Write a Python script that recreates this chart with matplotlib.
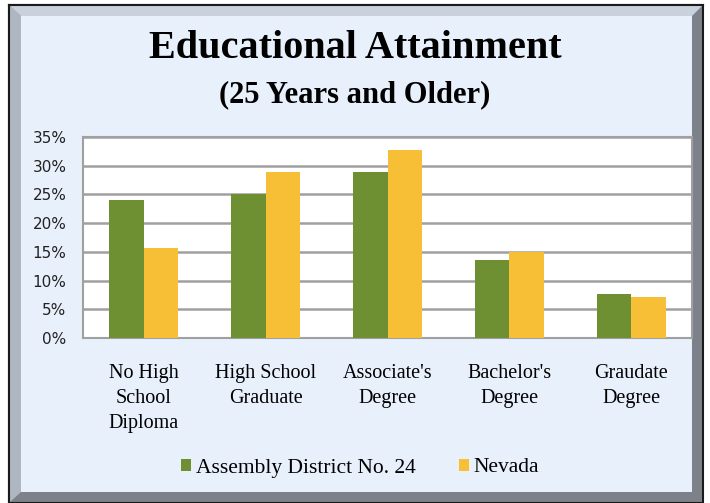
import matplotlib.pyplot as plt
from matplotlib.patches import Rectangle, Polygon
import numpy as np

categories = ["No High\nSchool\nDiploma", "High School\nGraduate", "Associate's\nDegree",
              "Bachelor's\nDegree", "Graudate\nDegree"]
district = [24.1, 25.0, 28.9, 13.5, 7.6]
nevada = [15.6, 28.9, 32.8, 15.0, 7.2]
series_names = ["Assembly District No. 24", "Nevada"]
yticks = [0, 5, 10, 15, 20, 25, 30, 35]

W, H = 710, 503
fig = plt.figure(figsize=(W / 100, H / 100), dpi=100)
fig.patch.set_facecolor("white")


def fx(px):
    return px / W


def fy(py):
    return 1 - py / H


# frame with bevel
fig.patches.append(Rectangle((fx(9), fy(503)), fx(703) - fx(9), fy(5) - fy(503),
                             transform=fig.transFigure, facecolor="#7d8189",
                             edgecolor="#1a1a1a", lw=1.5, zorder=-5))
bevel_left = [(9, 5), (21, 16), (21, 492), (9, 503)]
bevel_top = [(9, 5), (703, 5), (692, 16), (21, 16)]
fig.patches.append(Polygon([(fx(a), fy(b)) for a, b in bevel_left], closed=True,
                           transform=fig.transFigure, facecolor="#aeb6c2", lw=0, zorder=-4))
fig.patches.append(Polygon([(fx(a), fy(b)) for a, b in bevel_top], closed=True,
                           transform=fig.transFigure, facecolor="#c9d2dc", lw=0, zorder=-4))
fig.patches.append(Rectangle((fx(21), fy(492)), fx(692) - fx(21), fy(16) - fy(492),
                             transform=fig.transFigure, facecolor="#e8f0fb",
                             edgecolor="none", zorder=-3))
fig.add_artist(plt.Line2D([fx(9), fx(9)], [fy(5), fy(503)], color="#1a1a1a", lw=1.5,
                          zorder=-2))
fig.add_artist(plt.Line2D([fx(9), fx(703)], [fy(5), fy(5)], color="#1a1a1a", lw=1.5,
                          zorder=-2))

ax = fig.add_axes([fx(83), fy(338), fx(692) - fx(83), fy(137) - fy(338)])
ax.set_zorder(2)
ax.set_facecolor("white")

x = np.arange(len(categories))
bw = 0.283
ax.bar(x - bw / 2, district, bw, color="#6f8f33", label=series_names[0], zorder=3)
ax.bar(x + bw / 2, nevada, bw, color="#f6bf36", label=series_names[1], zorder=3)

ax.set_xlim(-0.5, len(categories) - 0.5)
ax.set_ylim(0, 35)
ax.set_yticks(yticks)
ax.set_yticklabels([f"{v}%" for v in yticks], fontsize=11, color="#222222",
                   family="DejaVu Sans")
ax.yaxis.grid(True, color="#a0a0a0", lw=1.8, zorder=1)
ax.set_axisbelow(True)
ax.tick_params(axis="y", length=0, pad=12)
ax.set_xticks(x)
ax.set_xticklabels(categories, fontsize=14.5, family="Liberation Serif",
                   linespacing=1.4, va="top")
ax.tick_params(axis="x", length=0, pad=19)
for s in ax.spines.values():
    s.set_color("#a0a0a0")
    s.set_linewidth(1.5)

fig.text(0.5, fy(48), "Educational Attainment", ha="center", va="center",
         fontsize=29, fontweight="bold", family="Liberation Serif")
fig.text(0.5, fy(95), "(25 Years and Older)", ha="center", va="center",
         fontsize=22, fontweight="bold", family="Liberation Serif")

leg = fig.legend(loc="center", bbox_to_anchor=(fx(360), fy(468)), ncol=2, frameon=False,
                 prop={"family": "Liberation Serif", "size": 15.5},
                 handlelength=0.5, handleheight=0.5, handletextpad=0.2,
                 columnspacing=2.0)

fig.savefig("out.png", dpi=100)
